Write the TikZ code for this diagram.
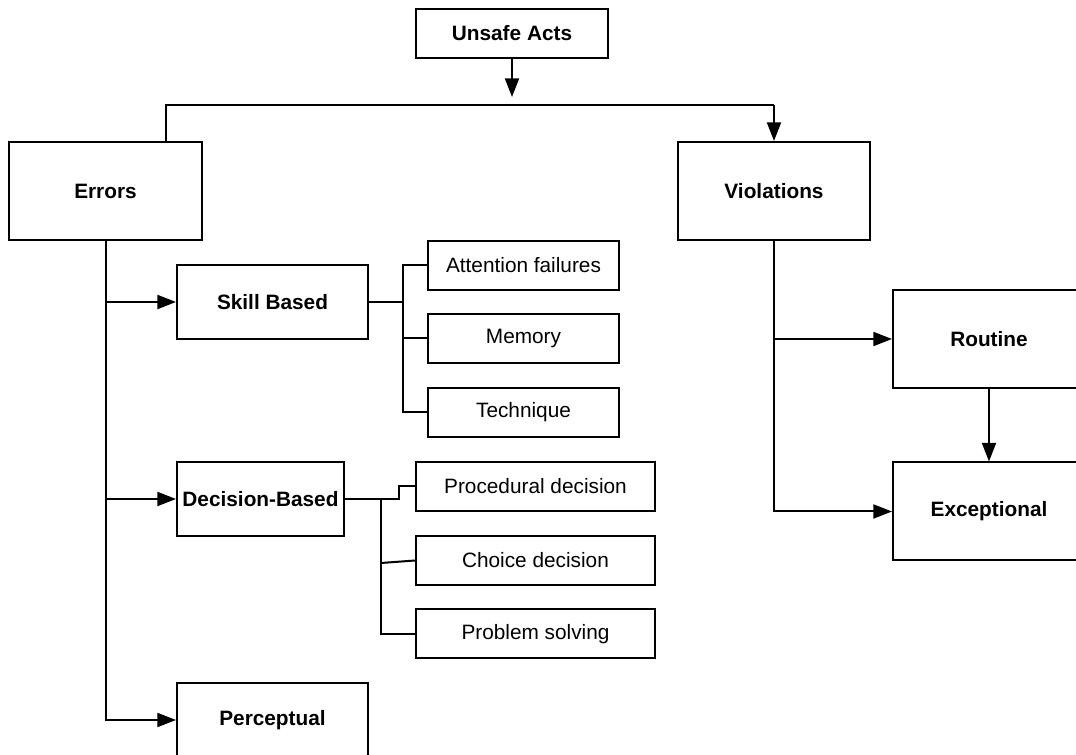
\documentclass[tikz,border=0pt]{standalone}
\usepackage{fontspec}
\setmainfont{Liberation Sans}
\usetikzlibrary{arrows.meta,calc}
\begin{document}
\begin{tikzpicture}[x=0.75pt,y=-0.75pt,
  box/.style={draw=black,line width=1.5pt,fill=white,inner sep=0pt,
    minimum width=#1*0.75pt,font=\fontsize{15.6}{18}\selectfont},
  big/.style={minimum height=98*0.75pt},
  mid/.style={minimum height=74*0.75pt},
  sml/.style={minimum height=49*0.75pt},
  conn/.style={line width=1.5pt,draw=black},
  arr/.style={conn,-{Triangle[length=14pt,width=10.5pt]}}]
\useasboundingbox (0,0) rectangle (1076,755);
\clip (0,0) rectangle (1076,755);
% nodes
\node[box=192,sml,font=\fontsize{15.6}{18}\selectfont\bfseries] (ua) at (512,33.5) {Unsafe Acts};
\node[box=193,big,font=\fontsize{15.6}{18}\selectfont\bfseries] (err) at (105.5,191) {Errors};
\node[box=192,big,font=\fontsize{15.6}{18}\selectfont\bfseries] (vio) at (774,191) {Violations};
\node[box=191,mid,font=\fontsize{15.6}{18}\selectfont\bfseries] (sk) at (272.5,302) {Skill Based};
\node[box=191,sml] (att) at (523.5,265.5) {Attention failures};
\node[box=191,sml] (mem) at (523.5,338.5) {Memory};
\node[box=191,sml] (tec) at (523.5,412.5) {Technique};
\node[box=167,mid,font=\fontsize{15.6}{18}\selectfont\bfseries] (dec) at (260.5,499) {Decision-Based};
\node[box=239,sml] (pro) at (535.5,486.5) {Procedural decision};
\node[box=239,sml] (cho) at (535.5,560.5) {Choice decision};
\node[box=239,sml] (prb) at (535.5,634) {Problem solving};
\node[box=191,mid,font=\fontsize{15.6}{18}\selectfont\bfseries] (per) at (272.5,720) {Perceptual};
\node[box=192,big,font=\fontsize{15.6}{18}\selectfont\bfseries] (rou) at (989,339) {Routine};
\node[box=192,big,font=\fontsize{15.6}{18}\selectfont\bfseries] (exc) at (989,511.5) {Exceptional};
% coordinates
\coordinate (uaend) at (512,97);
\coordinate (hl) at (166,105);
\coordinate (hr) at (774,105);
\coordinate (skb) at (403,302);
\coordinate (dcb) at (381,499);
\coordinate (ch) at (381,563);
% connectors
\draw[arr] (ua.south) -- (uaend);
\draw[conn] (hl |- err.north) -- (hl) -- (hr);
\draw[arr] (hr) -- (vio.north);
\draw[arr] (err.south) |- (per.west);
\draw[arr] (err.south |- sk.west) -- (sk.west);
\draw[arr] (err.south |- dec.west) -- (dec.west);
\draw[conn] (sk.east) -- (skb);
\draw[conn] (att.west) -| (skb);
\draw[conn] (tec.west) -| (skb);
\draw[conn] (mem.west) -- (mem.west -| skb);
\draw[conn] (dec.east) -- ++(54,0) |- (pro.west);
\draw[conn] (dcb) |- (prb.west);
\draw[conn] (ch) -- (cho.west);
\draw[arr] (vio.south) |- (exc.west);
\draw[arr] (vio.south |- rou.west) -- (rou.west);
\draw[arr] (rou.south) -- (exc.north);
\end{tikzpicture}
\end{document}
